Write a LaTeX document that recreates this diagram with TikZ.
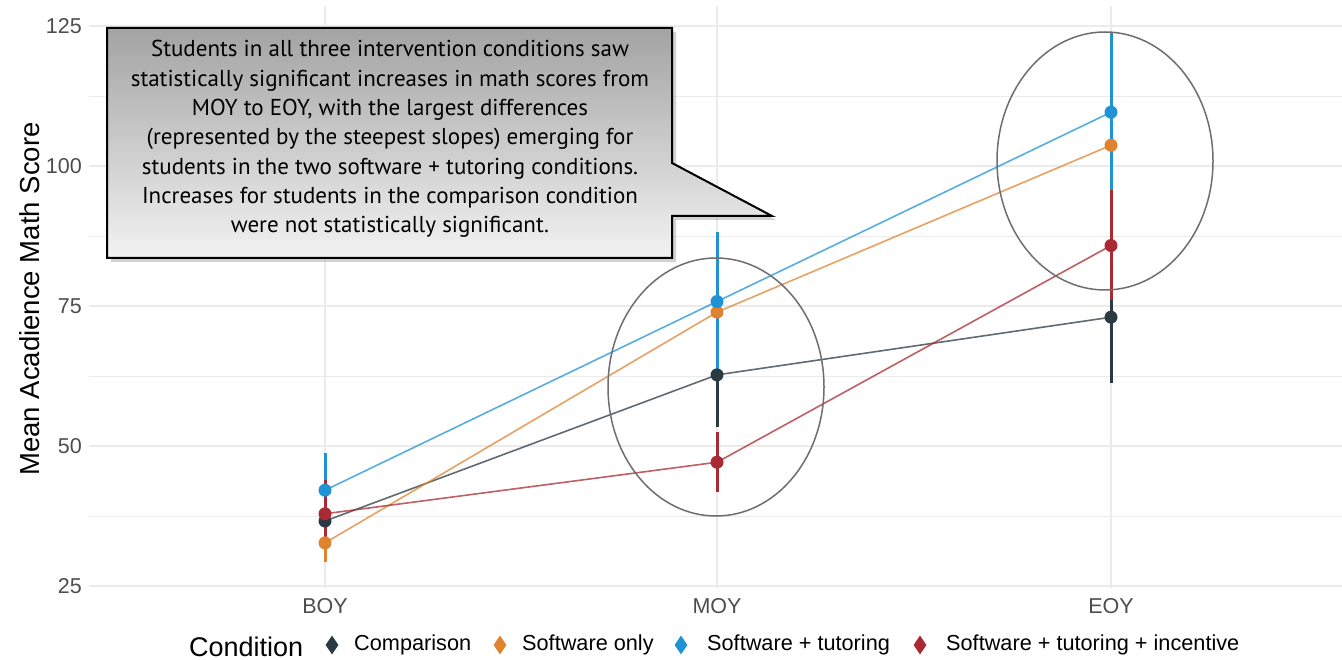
\documentclass[tikz,border=0pt]{standalone}
\usepackage{fontspec}
\setmainfont{Liberation Sans}
\newfontfamily\callfont{PT Sans}
\usetikzlibrary{shapes.geometric,shadows}
\definecolor{colComp}{HTML}{2B3A42}
\definecolor{colSoft}{HTML}{E0832F}
\definecolor{colTut}{HTML}{1F93D4}
\definecolor{colInc}{HTML}{A92A32}
\definecolor{gridcol}{HTML}{EBEBEB}
\definecolor{ticktxt}{HTML}{4D4D4D}
\definecolor{ringcol}{HTML}{6E6E6E}
\newcommand\ebar[5]{%
  \coordinate (#1lo) at (#2,{vy(#3)});
  \coordinate (#1hi) at (#2,{vy(#4)});
  \draw[errbar,#5] (#1lo) -- (#1hi);}
\begin{document}
\begin{tikzpicture}[x=1pt,y=-1pt,
  declare function={vy(\v)=586-(\v-25)*5.6;},
  majgrid/.style={draw=gridcol,line width=1.2pt},
  mingrid/.style={draw=gridcol,line width=0.6pt},
  ticklab/.style={text=ticktxt,font=\fontsize{21.5}{24}\selectfont,inner sep=0pt},
  seriesline/.style={line width=1.6pt,opacity=0.75},
  errbar/.style={line width=3pt},
  dot/.style={circle,inner sep=0pt,minimum size=13pt,draw=none},
  ring/.style={draw=ringcol,line width=1.5pt},
  callout/.style={draw=black,line width=2pt,top color=black!36,bottom color=black!5,
    drop shadow={shadow xshift=4pt,shadow yshift=-4pt,opacity=0.35}},
  calltext/.style={font=\callfont\fontsize{23}{29.3}\selectfont,align=center,inner sep=0pt},
  keyd/.style={diamond,inner sep=0pt,minimum width=13pt,minimum height=19pt,draw=none},
  legtxt/.style={font=\fontsize{21.7}{24}\selectfont,anchor=west,inner sep=0pt},
]
\useasboundingbox (0,0) rectangle (1342,660);
\fill[white] (0,0) rectangle (1342,660);
% grid
\foreach \v in {37.5,62.5,87.5,112.5} \draw[mingrid] (89,{vy(\v)}) -- (1342,{vy(\v)});
\foreach \v in {25,50,75,100,125} \draw[majgrid] (89,{vy(\v)}) -- (1342,{vy(\v)});
\foreach \x in {325,717,1111} \draw[majgrid] (\x,6) -- (\x,588);
% tick labels
\foreach \v in {25,50,75,100,125} \node[ticklab,anchor=east] (yt\v) at (82,{vy(\v)}) {\v};
\node[ticklab] (xtB) at (325,606) {BOY};
\node[ticklab] (xtM) at (717,606) {MOY};
\node[ticklab] (xtE) at (1111,606) {EOY};
\node[rotate=90,font=\fontsize{27.5}{30}\selectfont,inner sep=0pt] (ytitle) at (30,299) {Mean Acadience Math Score};
% data coordinates
\coordinate (cB) at (325,{vy(36.6)}); \coordinate (cM) at (717,{vy(62.7)}); \coordinate (cE) at (1111,{vy(73.0)});
\coordinate (oB) at (325,{vy(32.7)}); \coordinate (oM) at (717,{vy(73.9)}); \coordinate (oE) at (1111,{vy(103.7)});
\coordinate (tB) at (325,{vy(42.1)}); \coordinate (tM) at (717,{vy(75.8)}); \coordinate (tE) at (1111,{vy(109.6)});
\coordinate (rB) at (325,{vy(37.9)}); \coordinate (rM) at (717,{vy(47.1)}); \coordinate (rE) at (1111,{vy(85.8)});
% lines
\draw[seriesline,colComp] (cB) -- (cM) -- (cE);
\draw[seriesline,colSoft] (oB) -- (oM) -- (oE);
\draw[seriesline,colTut] (tB) -- (tM) -- (tE);
\draw[seriesline,colInc] (rB) -- (rM) -- (rE);
% error bars
\ebar{ecB}{325}{31}{42}{colComp}
\ebar{ecM}{717}{53.4}{72}{colComp}
\ebar{ecE}{1111}{61.2}{85}{colComp}
\ebar{eoB}{325}{29.3}{36}{colSoft}
\ebar{eoM}{717}{62}{86}{colSoft}
\ebar{eoE}{1111}{93}{115}{colSoft}
\ebar{etB}{325}{35.3}{48.8}{colTut}
\ebar{etM}{717}{63}{88.2}{colTut}
\ebar{etE}{1111}{95.7}{123.9}{colTut}
\ebar{erB}{325}{33}{44}{colInc}
\ebar{erM}{717}{41.8}{52.5}{colInc}
\ebar{erE}{1111}{76}{95.7}{colInc}
% points
\foreach \p in {cB,cM,cE} \node[dot,fill=colComp] (d\p) at (\p) {};
\foreach \p in {oB,oM,oE} \node[dot,fill=colSoft] (d\p) at (\p) {};
\foreach \p in {tB,tM,tE} \node[dot,fill=colTut] (d\p) at (\p) {};
\foreach \p in {rB,rM,rE} \node[dot,fill=colInc] (d\p) at (\p) {};
% rings
\node[ring,ellipse,minimum width=216pt,minimum height=258pt,inner sep=0pt] (ringM) at (716,387) {};
\node[ring,ellipse,minimum width=216pt,minimum height=258pt,inner sep=0pt] (ringE) at (1105,161) {};
% callout
\coordinate (k1) at (107,28); \coordinate (k2) at (672,28); \coordinate (k3) at (672,163);
\coordinate (tip) at (772,216); \coordinate (k4) at (672,216); \coordinate (k5) at (672,258);
\coordinate (k6) at (107,258);
\path[callout] (k1) -- (k2) -- (k3) -- (tip) -- (k4) -- (k5) -- (k6) -- cycle;
\node[calltext] (note) at (390,139) {Students in all three intervention conditions saw\\
statistically significant increases in math scores from\\
MOY to EOY, with the largest differences\\
(represented by the steepest slopes) emerging for\\
students in the two software + tutoring conditions.\\
Increases for students in the comparison condition\\
were not statistically significant.};
% legend
\node[font=\fontsize{27}{30}\selectfont,anchor=west,inner sep=0pt] (legT) at (189,647) {Condition};
\node[keyd,fill=colComp] (key1) at (332,645) {};
\node[legtxt] (lab1) at (354,645) {Comparison};
\node[keyd,fill=colSoft] (key2) at (500,645) {};
\node[legtxt] (lab2) at (522,645) {Software only};
\node[keyd,fill=colTut] (key3) at (681,645) {};
\node[legtxt] (lab3) at (707,645) {Software + tutoring};
\node[keyd,fill=colInc] (key4) at (920,645) {};
\node[legtxt] (lab4) at (946,645) {Software + tutoring + incentive};
\end{tikzpicture}
\end{document}
